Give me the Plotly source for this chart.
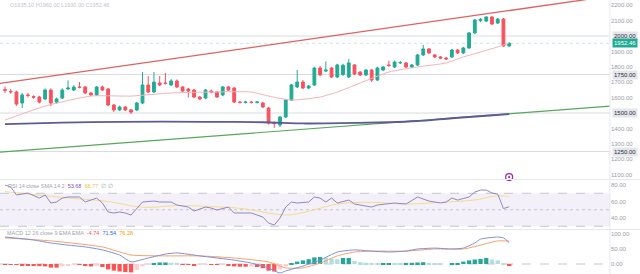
import plotly.graph_objects as go

# ---------------- data ----------------
idx = list(range(89))
open_ = [1652,1640,1636,1565,1617,1606,1604,1591,1649,1571,1597,1656,1649,1669,1669,1630,1617,1669,1656,1552,
         1520,1539,1520,1519,1565,1682,1636,1695,1695,1682,1708,1669,1656,1649,1604,1597,1643,1636,1617,1669,
         1662,1571,1568,1571,1569,1565,1532,1435,1422,1474,1584,1669,1701,1662,1682,1792,1772,1792,1734,1750,
         1734,1812,1766,1747,1779,1714,1779,1812,1799,1825,1825,1799,1812,1877,1916,1877,1864,1857,1864,1909,
         1890,1922,2020,2100,2097,2123,2084,2110,1935]
high_ = [1672,1655,1645,1630,1630,1615,1612,1660,1660,1600,1660,1712,1680,1701,1675,1636,1676,1678,1662,1558,
         1548,1546,1526,1572,1766,1740,1766,1740,1760,1720,1718,1675,1662,1656,1610,1656,1652,1643,1676,1675,
         1669,1578,1578,1578,1578,1571,1540,1445,1480,1590,1690,1779,1714,1682,1800,1805,1835,1800,1820,1820,
         1850,1818,1772,1786,1786,1800,1805,1840,1840,1838,1831,1818,1883,1942,1922,1883,1870,1864,1916,1916,
         1929,2026,2110,2117,2130,2130,2117,2117,1960]
low_ = [1630,1625,1546,1532,1600,1592,1562,1585,1545,1560,1590,1650,1643,1660,1623,1610,1610,1643,1545,1506,
        1512,1513,1493,1512,1558,1630,1630,1675,1685,1676,1662,1636,1600,1597,1584,1591,1628,1597,1610,1643,
        1565,1562,1562,1562,1562,1532,1425,1403,1410,1468,1578,1662,1655,1656,1675,1740,1766,1727,1727,1740,
        1727,1746,1740,1740,1701,1708,1772,1800,1792,1818,1792,1792,1805,1870,1883,1857,1850,1844,1857,1883,
        1883,1916,2013,2090,2090,2071,2078,1930,1930]
close_ = [1648,1637,1558,1617,1614,1603,1571,1649,1565,1591,1649,1662,1669,1666,1630,1617,1669,1649,1552,1520,
          1539,1520,1506,1565,1682,1636,1701,1682,1692,1708,1669,1643,1643,1604,1591,1649,1636,1604,1669,1649,
          1571,1568,1571,1569,1571,1539,1435,1432,1474,1584,1682,1701,1662,1675,1792,1747,1779,1734,1812,1810,
          1825,1753,1747,1779,1714,1792,1799,1808,1831,1828,1799,1812,1877,1916,1890,1864,1857,1851,1909,1890,
          1922,2020,2104,2108,2123,2078,2110,1935,1952.46]

fast_ma_x = [0, 7, 15, 22, 29, 36, 43, 46, 50, 55, 58, 62, 67, 72, 77, 80, 83, 86, 88]
fast_ma_y = [1454, 1545, 1610, 1610, 1630, 1636, 1636, 1610, 1584, 1604, 1636, 1695, 1766, 1799, 1825, 1864, 1896, 1929, 1955]

slow_ma_x = [0, 10, 20, 35, 45, 52, 56, 67, 72, 78, 84, 88]
slow_ma_y = [1428, 1438, 1443, 1443, 1440, 1432, 1433, 1440, 1448, 1466, 1482, 1493]

resist_x = [-1, 106]
resist_y = [1691.5, 2261]
support_x = [-1, 105.6]
support_y = [1245, 1545]

level_lines = [2000, 1750, 1500, 1250]
level_labels = ["2000.00", "1750.00", "1500.00", "1250.00"]
last_price = 1952.46
price_ticks = [1100, 1200, 1300, 1400, 1600, 1700, 1800, 1900, 2100, 2200]

rsi_pts = [(0, 80.0), (1, 77.6), (2, 67.9), (4, 70.3), (6, 64.2), (7, 67.9), (8, 58.2), (9, 59.4), (10, 64.2),
           (11, 65.5), (13, 65.5), (14, 59.4), (16, 64.2), (17, 58.2), (18, 47.3), (19, 46.1), (20, 47.3),
           (21, 46.1), (22, 43.6), (23, 52.1), (24, 59.4), (26, 60.6), (27, 59.4), (29, 59.4), (30, 55.8),
           (32, 53.3), (33, 48.5), (35, 53.3), (36, 52.1), (37, 49.7), (39, 53.3), (40, 46.1), (43, 46.1),
           (45, 41.2), (46, 33.9), (47, 31.5), (48, 40.0), (49, 53.3), (50, 59.4), (51, 58.2), (53, 59.4),
           (54, 65.5), (55, 64.2), (56, 59.4), (57, 64.2), (58, 58.2), (60, 61.8), (61, 57.0), (62, 55.8),
           (64, 53.3), (65, 55.8), (67, 57.0), (68, 58.2), (70, 57.0), (71, 61.8), (72, 65.5), (74, 60.6),
           (76, 58.2), (77, 59.4), (78, 64.2), (79, 61.8), (81, 65.5), (82, 71.5), (83, 73.9), (84, 73.9),
           (85, 70.3), (86, 69.1), (87, 51.5), (88, 53.7)]
rsi_x = [p[0] for p in rsi_pts]
rsi_y = [p[1] for p in rsi_pts]
rsi_ma_x = [0, 10, 18, 24, 30, 36, 42, 47, 50, 54, 58, 64, 70, 76, 82, 86, 88]
rsi_ma_y = [72, 65, 60, 53, 55, 54, 51, 45, 44, 50, 57, 59, 57, 59, 62, 67, 66]

macd_x = [0, 5, 8, 11, 14, 17, 20, 22, 25, 28, 30, 34, 40, 43, 46, 48, 49, 52, 55, 58, 61, 64, 67, 70, 72, 75, 78, 80, 82, 83, 86, 87, 88]
macd_y = [90, 80, 70, 63, 57, 47, 30, 7, 20, 33, 37, 27, 13, 3, -13, -30, -23, -7, 13, 40, 47, 43, 40, 43, 50, 53, 50, 53, 70, 83, 90, 87, 71.54]
sig_x = [0, 8, 17, 22, 28, 34, 40, 46, 49, 52, 55, 58, 61, 64, 70, 75, 80, 83, 86, 88]
sig_y = [87, 77, 57, 30, 27, 27, 20, 7, -13, -13, 3, 27, 40, 43, 43, 50, 50, 63, 77, 76.28]
hist = [-1,-2,-3,-4,-5,-6,-7,-8,-12,-12,-8,-4,-2,-3,-6,-8,-4,-10,-18,-22,
        -25,-27,-28,-20,-8,-2,3,5,5,4,1,-1,-3,-4,-2,-1,-2,-3,-1,-5,
        -8,-9,-9,-8,-10,-14,-22,-25,-18,-8,2,8,12,16,22,23,21,18,16,20,
        20,10,6,4,2,1,2,3,2,1,1,4,5,6,4,2,1,0,1,2,
        8,12,15,17,20,15,12,3,-5]

# ---------------- styles ----------------
UP = "#22ab94"
DN = "#f7525f"
W, H = 640, 274
XR = [-0.873, 105.585]
XD = [0, 0.953]
D_MAIN = [1 - 179 / H, 1]
D_RSI = [(H - 229) / H, (H - 180) / H]
D_MACD = [0, (H - 230) / H]

fig = go.Figure()

# trend lines
fig.add_trace(go.Scatter(x=resist_x, y=resist_y, mode="lines", line=dict(color="#e0615d", width=1.3),
                         xaxis="x", yaxis="y", hoverinfo="skip"))
fig.add_trace(go.Scatter(x=support_x, y=support_y, mode="lines", line=dict(color="#56a85a", width=1.2),
                         xaxis="x", yaxis="y", hoverinfo="skip"))
fig.add_trace(go.Scatter(x=slow_ma_x, y=slow_ma_y, mode="lines", line=dict(color="#5d5a96", width=1.8, shape="spline", smoothing=0.6),
                         xaxis="x", yaxis="y", hoverinfo="skip"))
fig.add_trace(go.Scatter(x=fast_ma_x, y=fast_ma_y, mode="lines", line=dict(color="#f4b2b8", width=1, shape="spline", smoothing=0.6),
                         xaxis="x", yaxis="y", hoverinfo="skip"))

fig.add_trace(go.Candlestick(x=idx, open=open_, high=high_, low=low_, close=close_,
                             increasing=dict(line=dict(color=UP, width=1), fillcolor=UP),
                             decreasing=dict(line=dict(color=DN, width=1), fillcolor=DN),
                             xaxis="x", yaxis="y", hoverinfo="skip"))

# alert icon
fig.add_trace(go.Scatter(x=[88], y=[1084], mode="markers",
                         marker=dict(symbol="circle-open-dot", size=7, color="#9c27b0", line=dict(width=1.2)),
                         xaxis="x", yaxis="y", cliponaxis=False, hoverinfo="skip"))

# RSI
fig.add_trace(go.Scatter(x=rsi_ma_x, y=rsi_ma_y, mode="lines", line=dict(color="#f7dc8a", width=1, shape="spline"),
                         xaxis="x2", yaxis="y2", hoverinfo="skip"))
fig.add_trace(go.Scatter(x=rsi_x, y=rsi_y, mode="lines", line=dict(color="#8f87cc", width=1),
                         xaxis="x2", yaxis="y2", hoverinfo="skip"))

# MACD histogram colours derived from data
hcols = []
for i, v in enumerate(hist):
    prev = hist[i - 1] if i > 0 else 0
    if v >= 0:
        hcols.append("#26a69a" if v >= prev else "#b2dfdb")
    else:
        hcols.append("#ff5252" if v <= prev else "#ffcdd2")
fig.add_trace(go.Bar(x=idx, y=hist, marker=dict(color=hcols, line=dict(width=0)), width=0.75,
                     xaxis="x3", yaxis="y3", hoverinfo="skip"))
fig.add_trace(go.Scatter(x=sig_x, y=sig_y, mode="lines", line=dict(color="#f7a26a", width=1, shape="spline", smoothing=0.5),
                         xaxis="x3", yaxis="y3", hoverinfo="skip"))
fig.add_trace(go.Scatter(x=macd_x, y=macd_y, mode="lines", line=dict(color="#7f8fd8", width=1, shape="spline", smoothing=0.5),
                         xaxis="x3", yaxis="y3", hoverinfo="skip"))

shapes = []
for lv in level_lines:
    shapes.append(dict(type="line", xref="x domain", yref="y", x0=0, x1=1, y0=lv, y1=lv,
                       line=dict(color="#d9dbe1", width=1), layer="below"))
shapes.append(dict(type="line", xref="x domain", yref="y", x0=0, x1=1, y0=last_price, y1=last_price,
                   line=dict(color="#cfe6e2", width=1, dash="dot"), layer="below"))
# RSI band
shapes.append(dict(type="rect", xref="x2 domain", yref="y2", x0=0, x1=1, y0=30, y1=70,
                   fillcolor="rgba(126,87,194,0.09)", line=dict(width=0), layer="below"))
for lv, ds in [(70, "dash"), (30, "dash"), (50, "dot")]:
    shapes.append(dict(type="line", xref="x2 domain", yref="y2", x0=0, x1=1, y0=lv, y1=lv,
                       line=dict(color="#c4c6cf", width=1, dash=ds), layer="below"))
shapes.append(dict(type="line", xref="x3 domain", yref="y3", x0=0, x1=1, y0=0, y1=0,
                   line=dict(color="#c4c6cf", width=1, dash="dash"), layer="below"))
# pane separators
for yp in [(H - 179.5) / H, (H - 229.5) / H]:
    shapes.append(dict(type="line", xref="paper", yref="paper", x0=0, x1=1, y0=yp, y1=yp,
                       line=dict(color="#e6e8ee", width=1)))
shapes.append(dict(type="line", xref="paper", yref="paper", x0=XD[1], x1=XD[1], y0=0, y1=1,
                   line=dict(color="#e6e8ee", width=1)))

FONT = "Liberation Sans, Arial, sans-serif"
annotations = []
for lv, lab in zip(level_lines, level_labels):
    annotations.append(dict(x=0.956, xref="paper", y=lv, yref="y", text=lab, showarrow=False, xanchor="left",
                            yanchor="middle", bgcolor="#e4e6eb", font=dict(size=6, color="#2a2e39", family=FONT), borderpad=1))
annotations.append(dict(x=0.956, xref="paper", y=last_price, yref="y", text=f"{last_price:.2f}", showarrow=False,
                        xanchor="left", yanchor="middle", bgcolor=UP, font=dict(size=6, color="white", family=FONT), borderpad=1))
annotations.append(dict(x=6 / W, xref="paper", y=(H - 186) / H, yref="paper", xanchor="left", yanchor="middle", showarrow=False,
                        text="<span style='color:#a0a3ab'>RSI 14 close SMA 14 2</span>  <span style='color:#7e57c2'>53.68</span>  "
                             "<span style='color:#f0c040'>66.77</span>  <span style='color:#a0a3ab'>∅ ∅</span>",
                        font=dict(size=5.5, family=FONT)))
annotations.append(dict(x=5 / W, xref="paper", y=(H - 233) / H, yref="paper", xanchor="left", yanchor="middle", showarrow=False,
                        text="<span style='color:#a0a3ab'>MACD 12 26 close 9 EMA EMA</span>  <span style='color:#f7525f'>-4.74</span>  "
                             "<span style='color:#2962ff'>71.54</span>  <span style='color:#ff9800'>76.28</span>",
                        font=dict(size=5.5, family=FONT)))
annotations.append(dict(x=8 / W, xref="paper", y=1.0, yref="paper", xanchor="left", yanchor="top", showarrow=False,
                        text="O1935.10 H1960.00 L1930.00 C1952.46", font=dict(size=5.5, color="#c2c5cc", family=FONT)))

axis_common = dict(showgrid=False, zeroline=False, showline=False, ticks="")
fig.update_layout(
    width=W, height=H, margin=dict(l=0, r=0, t=0, b=0),
    paper_bgcolor="white", plot_bgcolor="white", showlegend=False, bargap=0.2,
    xaxis=dict(domain=XD, range=XR, anchor="y", showticklabels=False, rangeslider=dict(visible=False), **axis_common),
    xaxis2=dict(domain=XD, range=XR, anchor="y2", matches="x", showticklabels=False, **axis_common),
    xaxis3=dict(domain=XD, range=XR, anchor="y3", matches="x", showticklabels=False, **axis_common),
    yaxis=dict(domain=D_MAIN, range=[1071.4, 2233.8], side="right", anchor="x", tickvals=price_ticks,
               ticktext=[f"{v:.2f}" for v in price_ticks], tickfont=dict(size=6, color="#9a9da6", family=FONT), **axis_common),
    yaxis2=dict(domain=D_RSI, range=[26.7, 86.1], side="right", anchor="x2", tickvals=[40, 60, 80],
                ticktext=["40.00", "60.00", "80.00"], tickfont=dict(size=6, color="#9a9da6", family=FONT), **axis_common),
    yaxis3=dict(domain=D_MACD, range=[-33.3, 113.3], side="right", anchor="x3", tickvals=[0, 50, 100],
                ticktext=["0.00", "50.00", "100.00"], tickfont=dict(size=6, color="#9a9da6", family=FONT), **axis_common),
    shapes=shapes, annotations=annotations,
)

fig.write_html("out.html")
